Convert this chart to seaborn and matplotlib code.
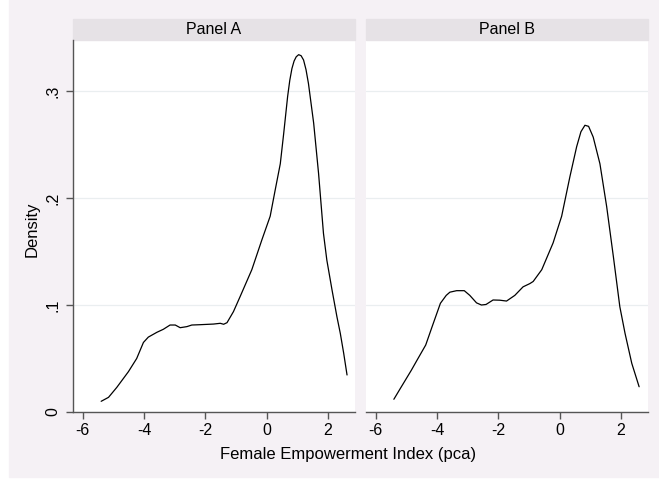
import pandas as pd
import matplotlib
matplotlib.use("Agg")
import matplotlib.pyplot as plt
from matplotlib.patches import Rectangle
import seaborn as sns

# density curves
a_x = [-5.40, -5.16, -4.89, -4.51, -4.24, -4.02, -3.86, -3.58, -3.37, -3.15, -2.98,
       -2.82, -2.60, -2.44, -2.17, -1.73, -1.51, -1.40, -1.29, -1.08, -0.86, -0.48,
       -0.15, 0.12, 0.28, 0.45, 0.56, 0.69, 0.76, 0.83, 0.90, 0.97, 1.05, 1.13, 1.21,
       1.29, 1.37, 1.54, 1.70, 1.86, 1.97, 2.14, 2.30, 2.41, 2.52, 2.63]
a_y = [0.010, 0.0137, 0.023, 0.0377, 0.050, 0.065, 0.070, 0.0745, 0.0773, 0.0813, 0.0813,
       0.0788, 0.0798, 0.0813, 0.0816, 0.0822, 0.0829, 0.082, 0.0835, 0.0938, 0.108, 0.133,
       0.161, 0.183, 0.207, 0.232, 0.260, 0.295, 0.310, 0.321, 0.328, 0.332, 0.334, 0.333, 0.329,
       0.320, 0.307, 0.270, 0.223, 0.167, 0.142, 0.114, 0.089, 0.0735, 0.055, 0.0346]

b_x = [-5.41, -5.22, -5.03, -4.84, -4.65, -4.37, -4.16, -3.89, -3.70, -3.58, -3.36, -3.11,
       -2.93, -2.71, -2.55, -2.40, -2.17, -1.95, -1.73, -1.46, -1.19, -0.97, -0.86, -0.58,
       -0.21, 0.07, 0.34, 0.56, 0.70, 0.83, 0.95, 1.10, 1.32, 1.54, 1.76, 1.97, 2.14,
       2.36, 2.60]
b_y = [0.0119, 0.021, 0.030, 0.039, 0.0486, 0.0626, 0.0798, 0.1016, 0.109, 0.112, 0.1134,
       0.1134, 0.109, 0.102, 0.100, 0.1005, 0.1047, 0.1045, 0.1037, 0.109, 0.117, 0.120,
       0.122, 0.133, 0.158, 0.183, 0.220, 0.248, 0.262, 0.268, 0.267, 0.257, 0.232, 0.192,
       0.145, 0.0984, 0.0735, 0.0455, 0.0236]

panels = ["Panel A", "Panel B"]
y_ticks = [0, 0.1, 0.2, 0.3]
y_labels = ["0", ".1", ".2", ".3"]
x_ticks = [-6, -4, -2, 0, 2]

df = pd.concat([
    pd.DataFrame({"x": a_x, "density": a_y, "panel": panels[0]}),
    pd.DataFrame({"x": b_x, "density": b_y, "panel": panels[1]}),
])

sns.set_style("white")
plt.rcParams["font.family"] = ["Liberation Sans", "DejaVu Sans"]
plt.rcParams["text.color"] = "black"
plt.rcParams["xtick.labelcolor"] = "black"
plt.rcParams["ytick.labelcolor"] = "black"

bg = "#f5f1f5"
strip = "#e6e2e6"
dark = "#555555"
fs = 11.5

fig = plt.figure(figsize=(6.59, 4.79), dpi=100, facecolor="white")
fig.patches.append(Rectangle((9 / 659, 2 / 479), 650 / 659, 477 / 479,
                             transform=fig.transFigure, color=bg, zorder=-1))

W, H = 659, 479
lefts = [73, 366]
for i, name in enumerate(panels):
    ax = fig.add_axes([lefts[i] / W, 1 - 412 / H, 282 / W, 372 / H])
    sns.lineplot(data=df[df["panel"] == name], x="x", y="density", ax=ax,
                 color="black", linewidth=0.9, sort=False)
    ax.set_xlim(-6.32, 2.89)
    ax.set_ylim(0, 0.3477)
    ax.set_xticks(x_ticks)
    ax.set_xticklabels([str(t) for t in x_ticks])
    ax.set_yticks(y_ticks)
    ax.yaxis.grid(True, color="#eaeef0", linewidth=0.9)
    ax.set_axisbelow(True)
    ax.set_xlabel("")
    ax.set_ylabel("")
    for s in ["top", "right"]:
        ax.spines[s].set_visible(False)
    ax.spines["bottom"].set_color(dark)
    ax.spines["bottom"].set_linewidth(1.0)
    ax.tick_params(axis="x", direction="out", length=5, width=1, color=dark,
                   labelsize=fs, labelcolor="black", pad=3, bottom=True)
    if i == 0:
        ax.spines["left"].set_color(dark)
        ax.spines["left"].set_linewidth(1.0)
        ax.set_yticklabels(y_labels, rotation=90, va="center")
        ax.tick_params(axis="y", direction="out", length=5, width=1, color=dark,
                       labelsize=fs, labelcolor="black", pad=4, left=True)
    else:
        ax.spines["left"].set_visible(False)
        ax.tick_params(axis="y", left=False, labelleft=False)
    # strip header
    ax.add_patch(Rectangle((0, 1.0), 1, 21 / 372, transform=ax.transAxes,
                           color=strip, clip_on=False))
    ax.text(0.5, 1.0 + 10.5 / 372, name, transform=ax.transAxes,
            ha="center", va="center", fontsize=fs, color="black")

fig.text(32 / W, 1 - 229 / H, "Density", rotation=90, ha="center", va="center",
         fontsize=12, color="black")
fig.text(348 / W, 1 - 454 / H, "Female Empowerment Index (pca)", ha="center",
         va="center", fontsize=12, color="black")

fig.savefig("out.png", dpi=100, facecolor=fig.get_facecolor())
